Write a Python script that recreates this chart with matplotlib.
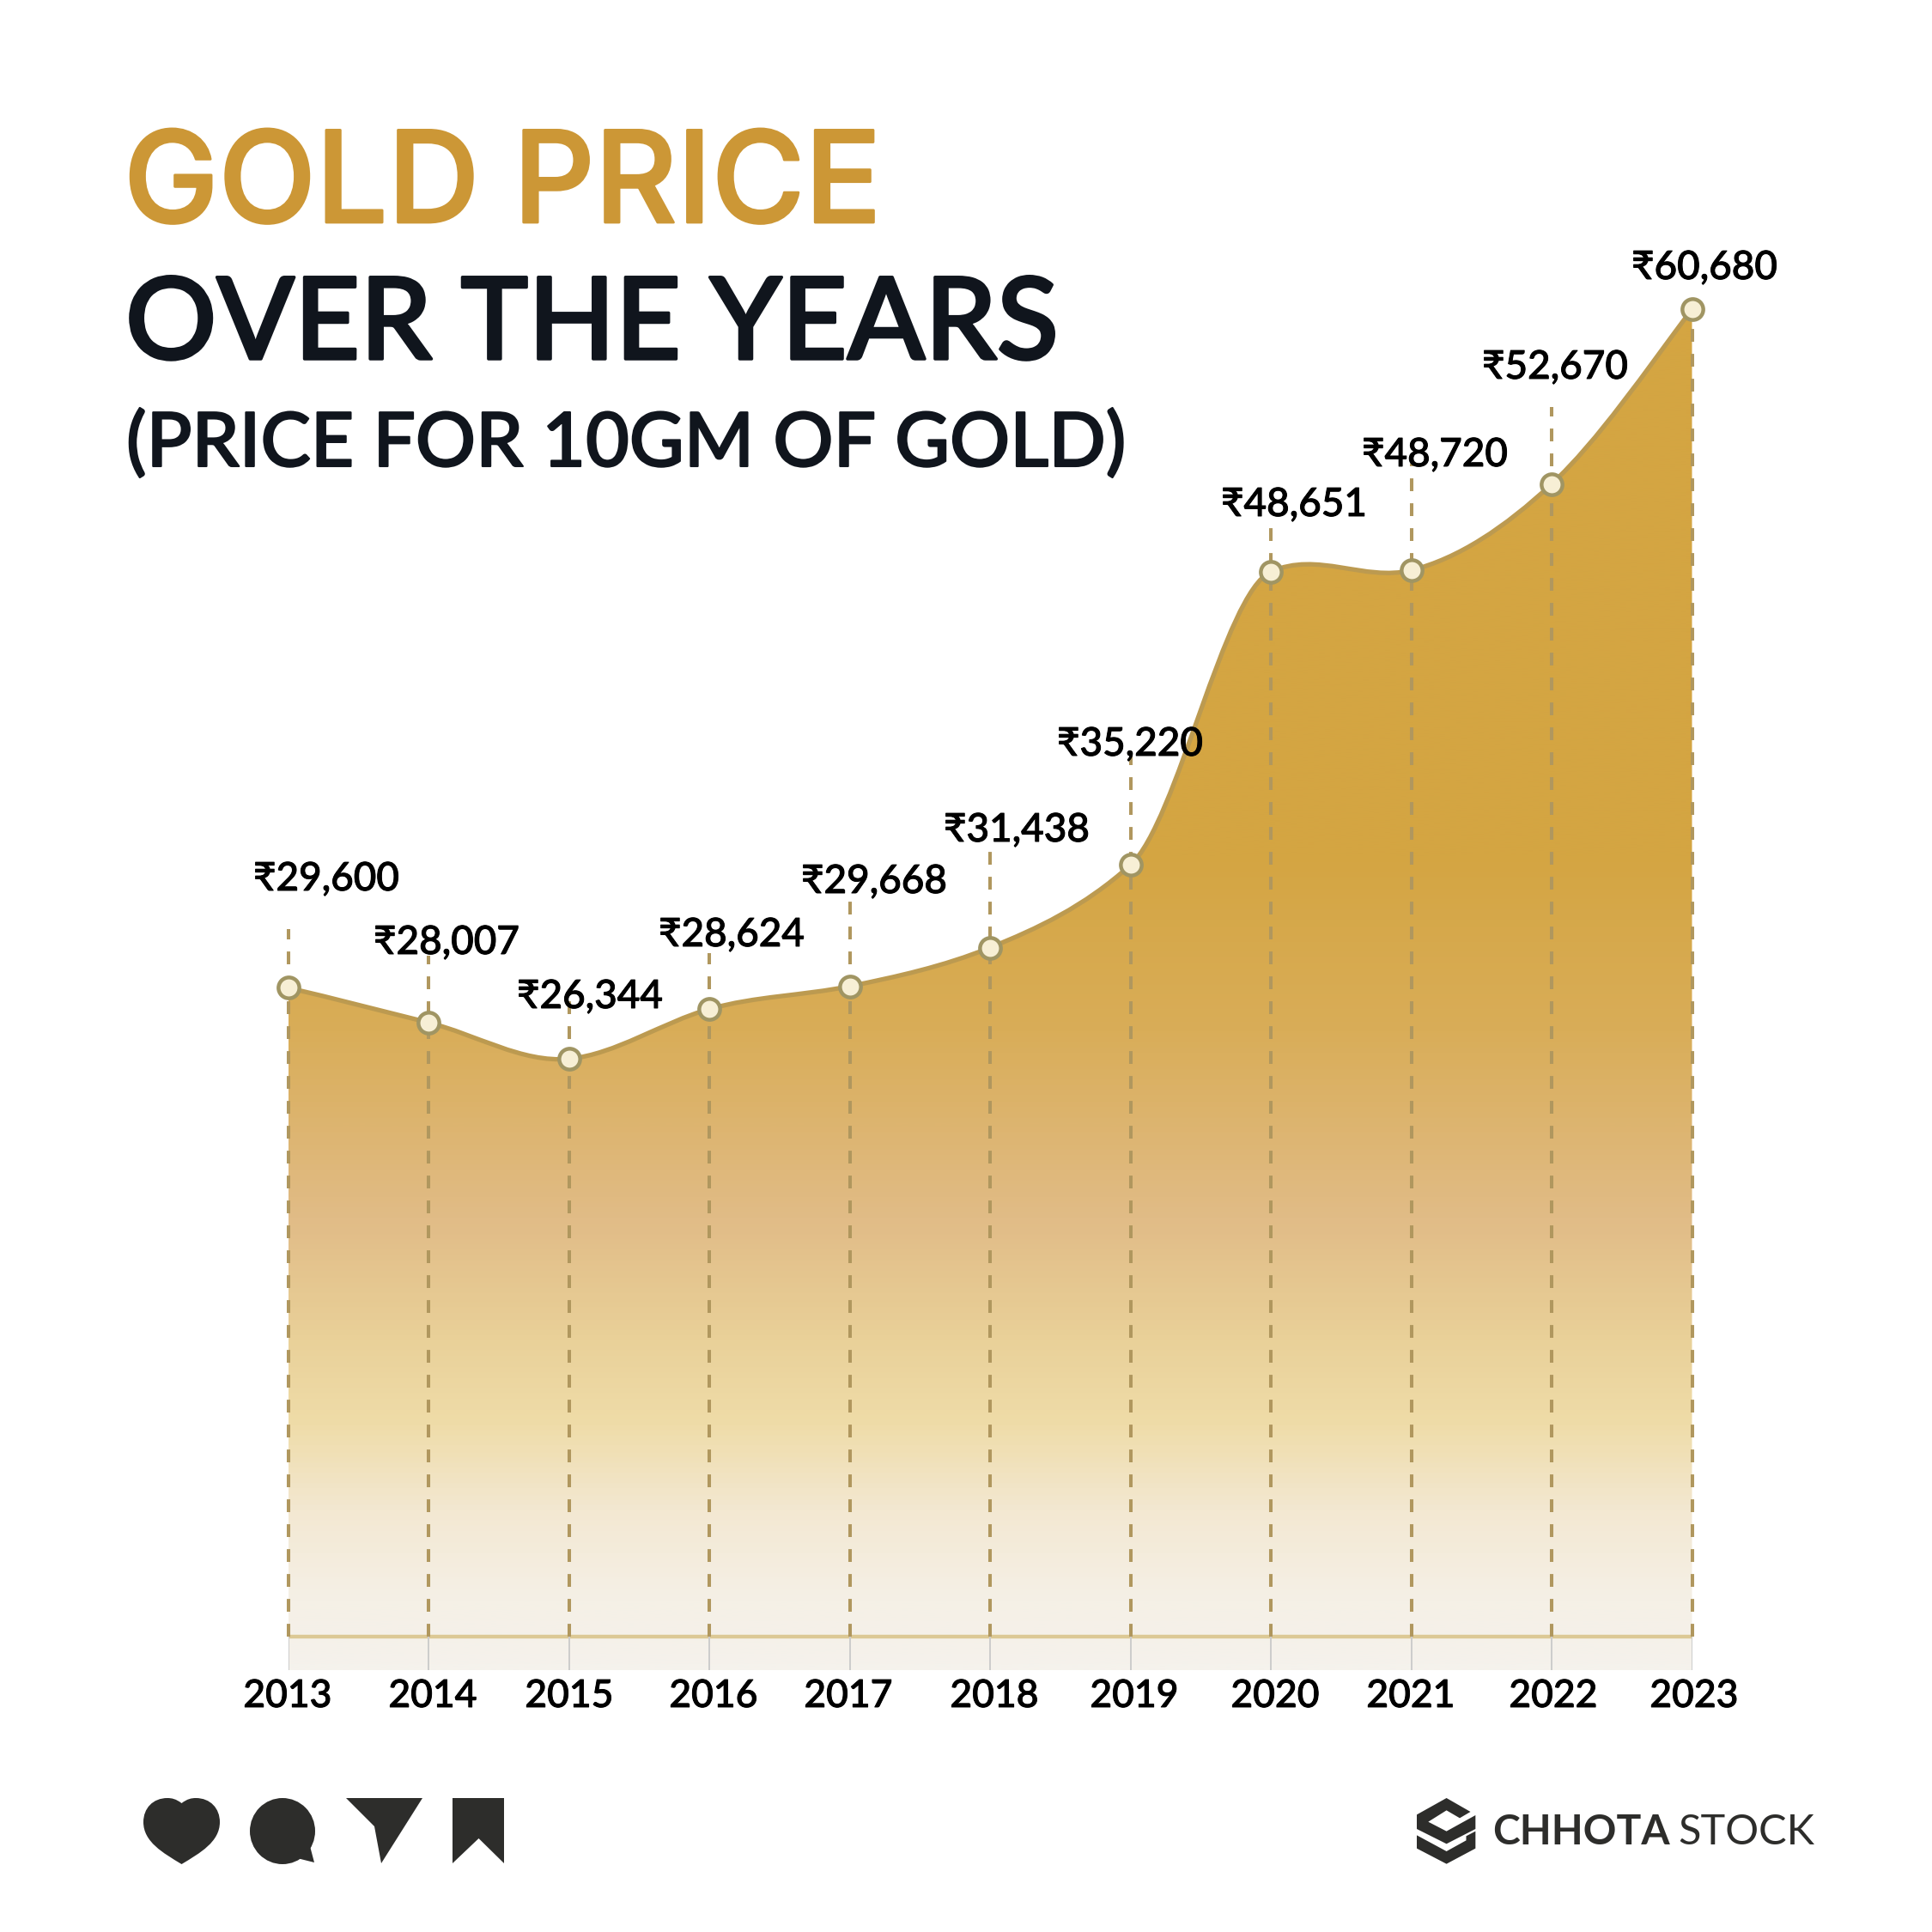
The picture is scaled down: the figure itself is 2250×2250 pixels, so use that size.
import numpy as np
import matplotlib
matplotlib.use('Agg')
import matplotlib.pyplot as plt
import matplotlib.patheffects as pe
from matplotlib.colors import LinearSegmentedColormap
from matplotlib.patches import Ellipse, PathPatch, Polygon
from matplotlib.path import Path

years = [2013, 2014, 2015, 2016, 2017, 2018, 2019, 2020, 2021, 2022, 2023]
prices = [29600, 28007, 26344, 28624, 29668, 31438, 35220, 48651, 48720, 52670, 60680]
# slope of the curve at each year (rupees per year)
slopes = [-1500, -1600, 600, 1800, 1300, 2600, 5800, 2900, 1600, 6000, 8600]

# layout in image pixels
stem_tops = [1082, 1113, 1163, 1110, 1042, 989, 868, 605, 540, 474, 360]
label_left = [295, 435, 602, 767, 933, 1099, 1231, 1422, 1586, 1726, 1900]
label_base = [1037, 1111, 1174, 1102, 1040, 980, 880, 601, 543, 441, 325]
year_center = [335, 504, 663, 831, 988, 1158, 1321, 1485, 1643, 1809, 1973]

grad_pos = [0, 0.4, 0.53, 0.67, 0.755, 0.82, 0.885, 0.95, 1]
grad_col = ['#d4a542', '#d4a542', '#d9ad58', '#e1bc87', '#e9d098', '#efdca8', '#f3e8d2', '#f5f0e6', '#f5f2ec']

LEFT, RIGHT, TOP, ZERO, BASE, BOTTOM = 335.5, 1970.5, 360, 1903, 1906, 1945
TEXT = ['Lato', 'DejaVu Sans']
TITLE = ['Inter', 'DejaVu Sans']

fig = plt.figure(figsize=(22.5, 22.5), dpi=100, facecolor='white')
ax = fig.add_axes([LEFT / 2250, 1 - BOTTOM / 2250, (RIGHT - LEFT) / 2250, (BOTTOM - TOP) / 2250])
per_px = max(prices) / (ZERO - TOP)
ax.set_xlim(years[0], years[-1])
ax.set_ylim(-(BOTTOM - ZERO) * per_px, max(prices))
ax.axis('off')


def px_to_price(y):
    return (ZERO - y) * per_px


# smooth curve through the points, one bezier per year
verts = [(years[0], prices[0])]
codes = [Path.MOVETO]
for i in range(len(years) - 1):
    verts += [(years[i] + 1 / 3, prices[i] + slopes[i] / 3),
              (years[i + 1] - 1 / 3, prices[i + 1] - slopes[i + 1] / 3),
              (years[i + 1], prices[i + 1])]
    codes += [Path.CURVE4] * 3
curve = Path(verts, codes)

ybot = ax.get_ylim()[0]
area = Path(verts + [(years[-1], ybot), (years[0], ybot), (years[0], prices[0])],
            codes + [Path.LINETO, Path.LINETO, Path.LINETO])
cmap = LinearSegmentedColormap.from_list('gold', list(zip(grad_pos, grad_col)))
grad = np.linspace(0, 1, 800).reshape(-1, 1)
im = ax.imshow(grad, cmap=cmap, aspect='auto', extent=[years[0], years[-1], ybot, max(prices)], zorder=1)
im.set_clip_path(PathPatch(area, transform=ax.transData))

base_y = px_to_price(BASE)
ax.plot([years[0], years[-1]], [base_y, base_y], color='#dcc995', lw=3.2, zorder=2)
ax.vlines(years, ybot, base_y, color='#cccccc', lw=1.4, zorder=2)
for x, top in zip(years, stem_tops):
    ax.plot([x, x], [base_y, px_to_price(top)], color='#b0975e', lw=2.9, dashes=(3.7, 3.5), clip_on=False, zorder=3)

ax.add_patch(PathPatch(curve, fill=False, edgecolor='#bc9a50', lw=3.8, clip_on=False, zorder=4))
ax.plot(years, prices, 'o', ms=17.5, mfc='#f7efd5', mec='#a09563', mew=3.2, clip_on=False, zorder=5)

# second axes in image pixels for titles, labels, icons
ov = fig.add_axes([0, 0, 1, 1], facecolor='none')
ov.set_xlim(0, 2250)
ov.set_ylim(2250, 0)
ov.axis('off')


def heavy(color, w):
    return [pe.withStroke(linewidth=w, foreground=color)]


ov.text(144, 259, 'GOLD PRICE', color='#cc9736', fontsize=106.5, family=TITLE, weight=500,
        path_effects=heavy('#cc9736', 2))
ov.text(146, 418, 'OVER THE YEARS', color='#10151d', fontsize=95.5, family=TEXT, weight=500,
        path_effects=heavy('#10151d', 2.5))
ov.text(147, 543, '(PRICE FOR 10GM OF GOLD)', color='#10151d', fontsize=63, family=TEXT, weight=500,
        path_effects=heavy('#10151d', 1.5))

for v, x, y in zip(prices, label_left, label_base):
    ov.text(x, y, f'₹{v:,}', color='black', fontsize=33, family=TEXT, weight=500,
            path_effects=heavy('black', 0.7))
for yr, x in zip(years, year_center):
    ov.text(x, 1988, str(yr), color='black', fontsize=32, family=TEXT, weight=500, ha='center',
            path_effects=heavy('black', 0.7))

ICON = '#2d2d2b'
heart = [(211.5, 2100), (205, 2095), (200, 2094), (195, 2094), (178, 2094), (167, 2106), (167, 2122),
         (167, 2145), (190, 2158), (211.5, 2171), (233, 2158), (256, 2145), (256, 2122),
         (256, 2106), (245, 2094), (228, 2094), (223, 2094), (218, 2095), (211.5, 2100)]
ov.add_patch(PathPatch(Path(heart, [Path.MOVETO] + [Path.CURVE4] * 18), fc=ICON, ec='none'))
ov.add_patch(Ellipse((329, 2132.5), 76, 77, fc=ICON, ec='none'))
ov.add_patch(Polygon([(361, 2150), (366, 2169), (346, 2164)], fc=ICON, ec='none'))
ov.add_patch(Polygon([(403, 2094), (492, 2094), (444, 2170), (436, 2127)], fc=ICON, ec='none'))
ov.add_patch(Polygon([(527, 2094), (587, 2094), (587, 2170), (557.5, 2141), (527, 2170)], fc=ICON, ec='none'))

# logo
logo_a = [(203, 132), (270, 180), (240, 202), (203, 175), (152, 215), (203, 248), (284, 192),
          (284, 240), (203, 292), (120, 240), (120, 190)]
logo_b = [(120, 262), (203, 318), (258, 280), (258, 265), (284, 248), (284, 308), (203, 362), (120, 308)]
for shape in (logo_a, logo_b):
    ov.add_patch(Polygon([(1600 + a / 2.4, 2050 + b / 3) for a, b in shape], fc=ICON, ec='none'))
ov.text(1738, 2148, 'CHHOTA', color=ICON, fontsize=34.5, family=TEXT, weight='bold')
ov.text(1954, 2148, 'STOCK', color=ICON, fontsize=35, family=TEXT, weight='normal')

fig.savefig('out.png', dpi=100)
plt.close(fig)
